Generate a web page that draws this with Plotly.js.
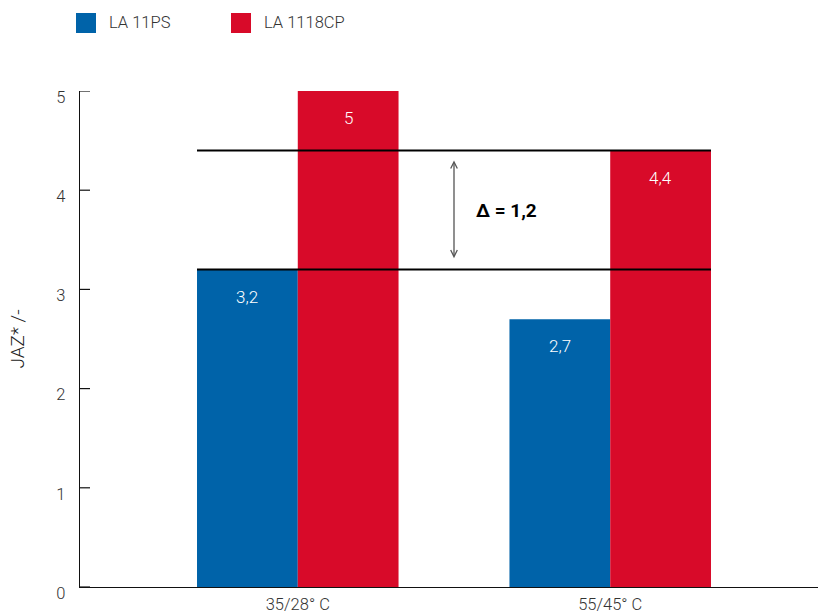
<!DOCTYPE html>
<html>
<head>
<meta charset="utf-8">
<script src="https://cdn.plot.ly/plotly-3.0.1.min.js"></script>
<style>html,body{margin:0;padding:0;background:#fff;}#chart{width:819px;height:615px;}</style>
</head>
<body>
<div id="chart"></div>
<script>
// ---- data ----
const categories = ['35/28° C', '55/45° C'];
const seriesNames = ['LA 11PS', 'LA 1118CP'];
const la11psValues = [3.2, 2.7];
const la1118cpValues = [5, 4.4];
const yTickValues = [0, 1, 2, 3, 4, 5];
const yTitle = 'JAZ* /-';

// ---- styling ----
const colors = ['#0063A9', '#D80A29'];
const W = 819, H = 615;
const M = {l: 80, r: 1, t: 91, b: 28};
const bargap = 0.355;
const fontFam = 'Roboto, "Liberation Sans", Arial, sans-serif';
const lightFont = (size, color) => ({family: fontFam, size: size, color: color, weight: 300});
const plotW = W - M.l - M.r, plotH = H - M.t - M.b;
const px2x = px => (px - M.l) / plotW;
const px2y = py => 1 - (py - M.t) / plotH;

const seriesValues = [la11psValues, la1118cpValues];
const traces = seriesValues.map((vals, i) => ({
  type: 'bar', name: seriesNames[i], x: categories, y: vals,
  marker: {color: colors[i], line: {width: 0}},
  hoverinfo: 'skip', showlegend: false
}));

const halfBar = (1 - bargap) / 2;
const annotations = [];
const fmt = v => v.toLocaleString('de-DE');
seriesValues.forEach((vals, i) => {
  vals.forEach((v, j) => {
    annotations.push({
      x: j + (i === 0 ? -halfBar / 2 : halfBar / 2), y: v, xref: 'x', yref: 'y',
      text: fmt(v), showarrow: false, yanchor: 'middle', yshift: -27,
      font: lightFont(17, '#ffffff')
    });
  });
});

// reference lines: LA 11PS at first category and LA 1118CP at second category
const lowLine = la11psValues[0];
const highLine = la1118cpValues[1];
const delta = Math.round((highLine - lowLine) * 10) / 10;
const lineX0 = 0 - halfBar, lineX1 = 1 + halfBar;
const shapes = [
  {type: 'line', xref: 'x', yref: 'y', x0: lineX0, x1: lineX1, y0: lowLine, y1: lowLine, line: {color: '#000', width: 2}},
  {type: 'line', xref: 'x', yref: 'y', x0: lineX0, x1: lineX1, y0: highLine, y1: highLine, line: {color: '#000', width: 2}}
];

// y-axis tick marks (inside, to the right of the axis line)
yTickValues.forEach(v => {
  shapes.push({type: 'line', xref: 'paper', yref: 'y', x0: 0, x1: px2x(M.l + 10), y0: v, y1: v,
    line: {color: '#111', width: 1.2}});
});

// double arrow between lines
const arrowX = 0.5;
annotations.push({
  x: arrowX, y: highLine - 0.1, ax: arrowX, ay: lowLine + 0.1,
  xref: 'x', yref: 'y', axref: 'x', ayref: 'y', text: '',
  showarrow: true, arrowside: 'end+start', arrowhead: 5, startarrowhead: 5,
  arrowsize: 1, startarrowsize: 1, arrowwidth: 1.3, arrowcolor: '#555'
});
annotations.push({
  x: 0.565, y: (highLine + lowLine) / 2 , xref: 'x', yref: 'y', xanchor: 'left', yanchor: 'middle',
  text: '<b>Δ = ' + fmt(delta) + '</b>', showarrow: false,
  font: {family: fontFam, size: 19, color: '#000'}
});

// legend (manual)
const legendItems = [{sq: 76, tx: 107}, {sq: 231, tx: 262}];
legendItems.forEach((it, i) => {
  shapes.push({type: 'rect', xref: 'paper', yref: 'paper',
    x0: px2x(it.sq), x1: px2x(it.sq + 20), y0: px2y(33), y1: px2y(13),
    fillcolor: colors[i], line: {width: 0}});
  annotations.push({x: px2x(it.tx), y: px2y(23), xref: 'paper', yref: 'paper',
    xanchor: 'left', yanchor: 'middle', showarrow: false, text: seriesNames[i],
    font: lightFont(16.5, '#333')});
});

const layout = {
  width: W, height: H, margin: M,
  paper_bgcolor: '#fff', plot_bgcolor: '#fff',
  barmode: 'group', bargap: bargap, bargroupgap: 0,
  separators: ',.',
  showlegend: false,
  font: lightFont(16.5, '#333'),
  xaxis: {
    type: 'category', range: [-0.697, 1.665],
    showline: true, linecolor: '#111', linewidth: 1.3,
    showgrid: false, zeroline: false, ticks: '',
    ticklabelstandoff: 2,
    tickfont: lightFont(16.5, '#333'), fixedrange: true
  },
  yaxis: {
    range: [0, 5], tickvals: yTickValues, ticktext: yTickValues.map(String),
    showline: true, linecolor: '#111', linewidth: 1.3,
    ticks: '', showgrid: false, zeroline: false,
    ticklabelstandoff: 10, ticklabelshift: 6,
    tickfont: lightFont(16.5, '#333'),
    title: {text: yTitle, font: lightFont(19, '#222'), standoff: 26},
    fixedrange: true
  },
  shapes: shapes, annotations: annotations
};

Plotly.newPlot('chart', traces, layout, {staticPlot: true, displayModeBar: false});
</script>
</body>
</html>
